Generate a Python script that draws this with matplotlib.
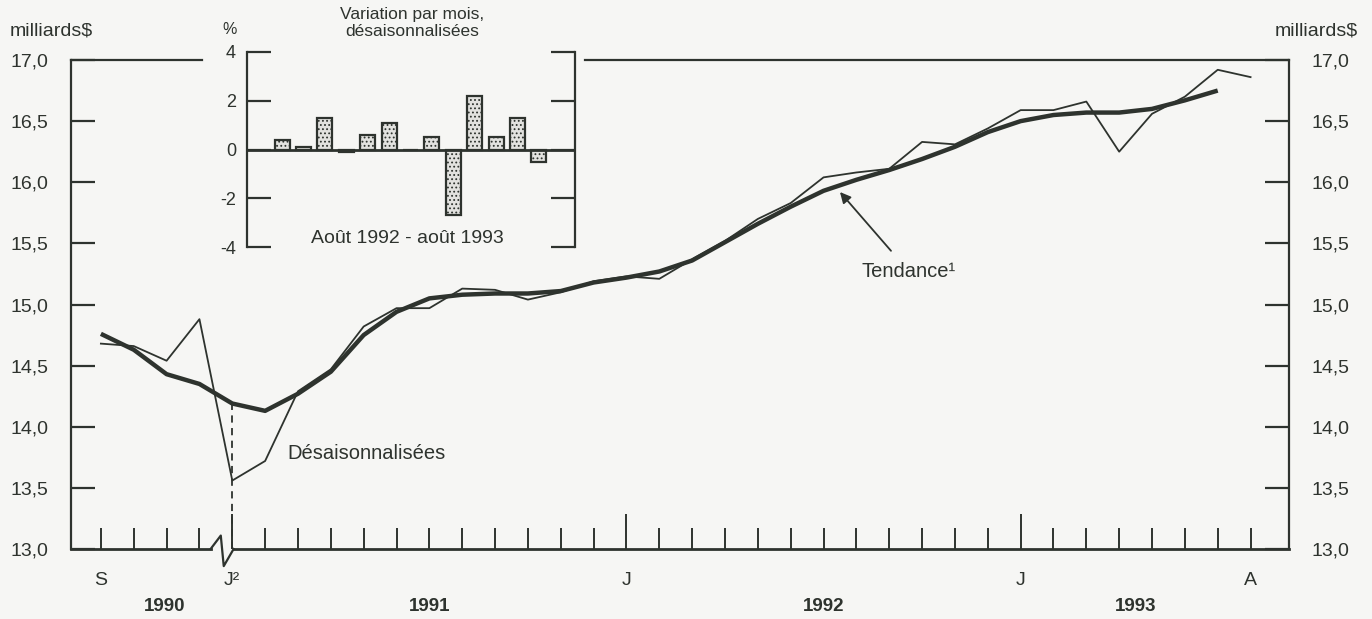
import numpy as np
import matplotlib
matplotlib.use("Agg")
import matplotlib.pyplot as plt

# données (milliards $), sept. 1990 - août 1993
mois = np.arange(36)  # 0 = sept. 1990
desaison = [14.68, 14.66, 14.54, 14.88,
            13.56, 13.72, 14.29, 14.47, 14.82, 14.97, 14.97, 15.13, 15.12, 15.04, 15.10, 15.19,
            15.23, 15.21, 15.37, 15.52, 15.70, 15.83, 16.04, 16.08, 16.11, 16.33, 16.31, 16.44,
            16.59, 16.59, 16.66, 16.25, 16.56, 16.70, 16.92, 16.86]
tendance = [14.76, 14.63, 14.43, 14.35,
            14.19, 14.13, 14.27, 14.45, 14.75, 14.94, 15.05, 15.08, 15.09, 15.09, 15.11, 15.18,
            15.22, 15.27, 15.36, 15.51, 15.66, 15.80, 15.93, 16.02, 16.10, 16.19, 16.29, 16.41,
            16.50, 16.55, 16.57, 16.57, 16.60, 16.67, 16.75]

# variation par mois (%), août 1992 - août 1993
variation = [0.4, 0.1, 1.3, -0.1, 0.6, 1.1, 0.0, 0.5, -2.7, 2.2, 0.5, 1.3, -0.5]

yticks = [13.0, 13.5, 14.0, 14.5, 15.0, 15.5, 16.0, 16.5, 17.0]
ytick_labels = ['13,0', '13,5', '14,0', '14,5', '15,0', '15,5', '16,0', '16,5', '17,0']
mois_labels = {0: 'S', 4: 'J²', 16: 'J', 28: 'J', 35: 'A'}
annees = {1.95: '1990', 10: '1991', 22: '1992', 31.5: '1993'}

ink = '#2e332e'
bg = '#f6f6f4'
plt.rcParams['font.family'] = ['Liberation Sans', 'DejaVu Sans']
plt.rcParams['hatch.color'] = '#555a55'
plt.rcParams['hatch.linewidth'] = 0.8

fig = plt.figure(figsize=(13.72, 6.19), dpi=100, facecolor=bg)
ax = fig.add_axes([71 / 1372, 1 - 549 / 619, 1218 / 1372, 489 / 619])
ax.set_facecolor('none')

ax.plot(mois, desaison, color=ink, lw=1.3, zorder=3)
ax.plot(mois[:len(tendance)], tendance, color=ink, lw=3.2, solid_capstyle='butt', zorder=4)
ax.plot([4, 4], [13.0, tendance[4]], color=ink, lw=1.3, ls=(0, (4, 3)), zorder=2)

ax.set_xlim(-0.91, 36.17)
ax.set_ylim(13.0, 17.0)

# axes et graduations
for s in ['top', 'bottom']:
    ax.spines[s].set_visible(False)
for s in ['left', 'right']:
    ax.spines[s].set_linewidth(1.6)
    ax.spines[s].set_color(ink)

ax.set_yticks(yticks)
ax.set_yticklabels(ytick_labels)
ax.tick_params(axis='y', direction='in', length=17, width=1.6, color=ink,
               labelsize=14, labelcolor=ink, left=True, right=True,
               labelleft=True, labelright=True, pad=16)

ax.set_xticks([4, 16, 28])
ax.set_xticks(mois, minor=True)
ax.set_xticklabels([])
ax.tick_params(axis='x', which='major', direction='in', length=25, width=1.4, color=ink)
ax.tick_params(axis='x', which='minor', direction='in', length=15, width=1.4, color=ink)

# ligne du bas avec coupure
brk = [3.34, 3.65, 3.74, 4.04]
ax.plot([-0.91, brk[0]], [13.0, 13.0], color=ink, lw=2.0, clip_on=False, zorder=5)
ax.plot(brk, [13.0, 13.11, 12.86, 13.0], color=ink, lw=1.6, clip_on=False, zorder=5)
ax.plot([brk[-1], 36.17], [13.0, 13.0], color=ink, lw=2.0, clip_on=False, zorder=5)

# ligne du haut, interrompue par l'encart
ax.plot([0, 131 / 1218], [1, 1], color=ink, lw=1.6, transform=ax.transAxes, clip_on=False)
ax.plot([514 / 1218, 1], [1, 1], color=ink, lw=1.6, transform=ax.transAxes, clip_on=False)

for m, lab in mois_labels.items():
    ax.text(m, 12.81, lab, ha='center', va='top', fontsize=14, color=ink)
for m, lab in annees.items():
    ax.text(m, 12.6, lab, ha='center', va='top', fontsize=13.5, fontweight='bold', color=ink)

fig.text(10 / 1372, 1 - 31 / 619, 'milliards$', fontsize=14, color=ink, va='center')
fig.text(1358 / 1372, 1 - 31 / 619, 'milliards$', fontsize=14, color=ink, va='center', ha='right')

ax.text(5.68, 13.78, 'Désaisonnalisées', fontsize=14.5, color=ink, va='center')
ax.annotate('Tendance¹', xy=(22.5, 15.92), xytext=(24.6, 15.27), fontsize=14.5, color=ink,
            ha='center', va='center',
            arrowprops=dict(arrowstyle='-|>', color=ink, lw=1.3, mutation_scale=16,
                            shrinkA=8, shrinkB=0))

# encart : variation par mois
ins = fig.add_axes([247 / 1372, 1 - 247 / 619, 328 / 1372, 195 / 619])
ins.set_facecolor(bg)
pos = np.arange(len(variation))
ins.bar(pos, variation, width=0.7, color='#e2e2df', edgecolor=ink, lw=1.6, hatch='....', zorder=2)
ins.axhline(0, color=ink, lw=2.0, zorder=3)
ins.set_xlim(-1.64, 13.69)
ins.set_ylim(-4, 4)
for s in ['top', 'bottom']:
    ins.spines[s].set_visible(False)
for s in ['left', 'right']:
    ins.spines[s].set_linewidth(1.6)
    ins.spines[s].set_color(ink)
ins.set_xticks([])
ins.set_yticks([-4, -2, 0, 2, 4])
ins.set_yticklabels(['-4', '-2', '0', '2', '4'])
ins.tick_params(axis='y', direction='in', length=17, width=1.6, color=ink, labelsize=13,
                labelcolor=ink, left=True, right=True, labelright=False, pad=8)
ins.text(-0.052, 1.113, '%', transform=ins.transAxes, fontsize=11.5, color=ink, ha='center', va='center')
ins.text(0.503, 1.149, 'Variation par mois,\ndésaisonnalisées', transform=ins.transAxes,
         fontsize=12.5, color=ink, ha='center', va='center', linespacing=1.15)
ins.text(0.49, 0.046, 'Août 1992 - août 1993', transform=ins.transAxes, fontsize=14,
         color=ink, ha='center', va='center')

fig.savefig('out.png', dpi=100, facecolor=bg)
